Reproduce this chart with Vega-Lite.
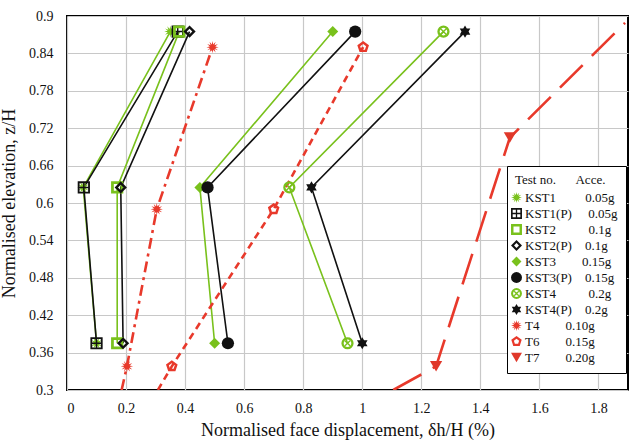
{
  "$schema": "https://vega.github.io/schema/vega-lite/v6.json",
  "width": 561,
  "height": 374,
  "autosize": {"type": "none"},
  "padding": {"left": 67, "top": 16, "right": 2, "bottom": 52},
  "background": "white",
  "config": {
    "font": "Liberation Serif",
    "view": {"stroke": "black", "strokeWidth": 2},
    "axis": {
      "domain": false,
      "ticks": false,
      "grid": true,
      "gridColor": "#c8c8c8",
      "gridWidth": 1.2,
      "labelFont": "Liberation Serif",
      "labelFontSize": 14,
      "labelColor": "#111",
      "titleFont": "Liberation Serif",
      "titleFontSize": 18,
      "titleFontWeight": "normal",
      "titleColor": "#111"
    },
    "legend": {
      "orient": "none",
      "padding": 8,
      "symbolOffset": -5,
      "fillColor": "white",
      "strokeColor": "#000000",
      "titleFont": "Liberation Serif",
      "titleFontSize": 13,
      "titleFontWeight": "normal",
      "titleColor": "#111",
      "titlePadding": 4,
      "labelFont": "Liberation Serif",
      "labelFontSize": 13,
      "labelColor": "#111",
      "labelOffset": 2,
      "rowPadding": 2,
      "symbolSize": 120,
      "symbolStrokeWidth": 0
    }
  },
  "data": {
    "values": [
      {"test": "KST1", "x": 0.35, "y": 0.875, "marked": true},
      {"test": "KST1", "x": 0.055, "y": 0.625, "marked": true},
      {"test": "KST1", "x": 0.1, "y": 0.375, "marked": true},
      {"test": "KST1(P)", "x": 0.375, "y": 0.875, "marked": true},
      {"test": "KST1(P)", "x": 0.057, "y": 0.625, "marked": true},
      {"test": "KST1(P)", "x": 0.1, "y": 0.375, "marked": true},
      {"test": "KST2", "x": 0.38, "y": 0.875, "marked": true},
      {"test": "KST2", "x": 0.17, "y": 0.625, "marked": true},
      {"test": "KST2", "x": 0.17, "y": 0.375, "marked": true},
      {"test": "KST2(P)", "x": 0.415, "y": 0.875, "marked": true},
      {"test": "KST2(P)", "x": 0.182, "y": 0.625, "marked": true},
      {"test": "KST2(P)", "x": 0.19, "y": 0.375, "marked": true},
      {"test": "KST3", "x": 0.9, "y": 0.875, "marked": true},
      {"test": "KST3", "x": 0.45, "y": 0.625, "marked": true},
      {"test": "KST3", "x": 0.5, "y": 0.375, "marked": true},
      {"test": "KST3(P)", "x": 0.976, "y": 0.875, "marked": true},
      {"test": "KST3(P)", "x": 0.476, "y": 0.625, "marked": true},
      {"test": "KST3(P)", "x": 0.545, "y": 0.375, "marked": true},
      {"test": "KST4", "x": 1.275, "y": 0.875, "marked": true},
      {"test": "KST4", "x": 0.753, "y": 0.625, "marked": true},
      {"test": "KST4", "x": 0.95, "y": 0.375, "marked": true},
      {"test": "KST4(P)", "x": 1.348, "y": 0.875, "marked": true},
      {"test": "KST4(P)", "x": 0.828, "y": 0.625, "marked": true},
      {"test": "KST4(P)", "x": 1.0, "y": 0.375, "marked": true},
      {"test": "T4", "x": 0.493, "y": 0.85, "marked": true},
      {"test": "T4", "x": 0.304, "y": 0.59, "marked": true},
      {"test": "T4", "x": 0.203, "y": 0.338, "marked": true},
      {"test": "T4", "x": 0.185, "y": 0.3, "marked": false},
      {"test": "T6", "x": 1.003, "y": 0.85, "marked": true},
      {"test": "T6", "x": 0.7, "y": 0.59, "marked": true},
      {"test": "T6", "x": 0.355, "y": 0.338, "marked": true},
      {"test": "T6", "x": 0.308, "y": 0.3, "marked": false},
      {"test": "T7", "x": 1.89, "y": 0.889, "marked": false},
      {"test": "T7", "x": 1.5, "y": 0.705, "marked": true},
      {"test": "T7", "x": 1.25, "y": 0.338, "marked": true},
      {"test": "T7", "x": 1.105, "y": 0.3, "marked": false}
    ]
  },
  "encoding": {
    "x": {
      "field": "x",
      "type": "quantitative",
      "scale": {"domain": [0, 1.9], "nice": false, "zero": false},
      "axis": {
        "values": [0, 0.2, 0.4, 0.6, 0.8, 1, 1.2, 1.4, 1.6, 1.8],
        "format": "~g",
        "labelPadding": 11,
        "titlePadding": 6,
        "title": "Normalised face displacement, δh/H (%)"
      }
    },
    "y": {
      "field": "y",
      "type": "quantitative",
      "scale": {"domain": [0.3, 0.9], "nice": false, "zero": false},
      "axis": {
        "values": [0.3, 0.36, 0.42, 0.48, 0.54, 0.6, 0.66, 0.72, 0.78, 0.84, 0.9],
        "format": "~g",
        "labelPadding": 14,
        "titlePadding": 10,
        "title": "Normalised elevation, z/H"
      }
    }
  },
  "layer": [
    {
      "transform": [{"filter": "substring(datum.test, 0, 3) === 'KST'"}],
      "mark": {"type": "line", "strokeWidth": 1.6, "clip": true},
      "encoding": {
        "detail": {"field": "test"},
        "order": {"field": "y", "type": "quantitative"},
        "stroke": {
          "field": "test",
          "type": "nominal",
          "legend": null,
          "scale": {
            "domain": ["T4", "T6", "T7", "KST1", "KST1(P)", "KST2", "KST2(P)", "KST3", "KST3(P)", "KST4", "KST4(P)"],
            "range": ["#e8392b", "#e8392b", "#e8392b", "#79c11c", "#111111", "#79c11c", "#111111", "#79c11c", "#111111", "#79c11c", "#111111"]
          }
        }
      }
    },
    {
      "transform": [{"filter": "substring(datum.test, 0, 1) === 'T'"}],
      "mark": {"type": "line", "strokeWidth": 2.6, "clip": true},
      "encoding": {
        "detail": {"field": "test"},
        "order": {"field": "y", "type": "quantitative"},
        "stroke": {
          "field": "test",
          "type": "nominal",
          "legend": null,
          "scale": {
            "domain": ["T4", "T6", "T7", "KST1", "KST1(P)", "KST2", "KST2(P)", "KST3", "KST3(P)", "KST4", "KST4(P)"],
            "range": ["#e8392b", "#e8392b", "#e8392b", "#79c11c", "#111111", "#79c11c", "#111111", "#79c11c", "#111111", "#79c11c", "#111111"]
          }
        },
        "strokeDash": {
          "field": "test",
          "type": "nominal",
          "legend": null,
          "scale": {
            "domain": ["T4", "T6", "T7"],
            "range": [[11, 5, 3, 5], [7, 5], [32, 13]]
          }
        }
      }
    },
    {
      "transform": [{"filter": "datum.marked"}],
      "mark": {"type": "point", "filled": true, "size": 150, "opacity": 1, "strokeWidth": 0},
      "encoding": {
        "fill": {
          "field": "test",
          "type": "nominal",
          "scale": {
            "domain": ["KST1", "KST1(P)", "KST2", "KST2(P)", "KST3", "KST3(P)", "KST4", "KST4(P)", "T4", "T6", "T7"],
            "range": ["#79c11c", "#111111", "#79c11c", "#111111", "#79c11c", "#111111", "#79c11c", "#111111", "#e8392b", "#e8392b", "#e0382a"]
          },
          "legend": {
            "title": "\u00a0\u00a0Test no.\u00a0\u00a0\u00a0\u00a0\u00a0\u00a0Acce.",
            "orient": "none",
            "legendX": 440,
            "legendY": 150,
            "labelExpr": "datum.label === 'KST1' ? 'KST1\u00a0\u00a0\u00a0\u00a0\u00a0\u00a0\u00a0\u00a0\u00a00.05g' : datum.label === 'KST1(P)' ? 'KST1(P)\u00a0\u00a0\u00a0\u00a0\u00a00.05g' : datum.label === 'KST2' ? 'KST2\u00a0\u00a0\u00a0\u00a0\u00a0\u00a0\u00a0\u00a0\u00a0\u00a00.1g' : datum.label === 'KST2(P)' ? 'KST2(P)\u00a0\u00a0\u00a0\u00a00.1g' : datum.label === 'KST3' ? 'KST3\u00a0\u00a0\u00a0\u00a0\u00a0\u00a0\u00a0\u00a00.15g' : datum.label === 'KST3(P)' ? 'KST3(P)\u00a0\u00a0\u00a0\u00a00.15g' : datum.label === 'KST4' ? 'KST4\u00a0\u00a0\u00a0\u00a0\u00a0\u00a0\u00a0\u00a0\u00a0\u00a00.2g' : datum.label === 'KST4(P)' ? 'KST4(P)\u00a0\u00a0\u00a0\u00a00.2g' : datum.label === 'T4' ? 'T4\u00a0\u00a0\u00a0\u00a0\u00a0\u00a0\u00a0\u00a00.10g' : datum.label === 'T6' ? 'T6\u00a0\u00a0\u00a0\u00a0\u00a0\u00a0\u00a0\u00a00.15g' : 'T7\u00a0\u00a0\u00a0\u00a0\u00a0\u00a0\u00a0\u00a00.20g'"
          }
        },
        "shape": {
          "field": "test",
          "type": "nominal",
          "scale": {
            "domain": ["KST1", "KST1(P)", "KST2", "KST2(P)", "KST3", "KST3(P)", "KST4", "KST4(P)", "T4", "T6", "T7"],
            "range": [
              "M0,-1L0.116,-0.435L0.5,-0.866L0.318,-0.318L0.866,-0.5L0.435,-0.116L1,0L0.435,0.116L0.866,0.5L0.318,0.318L0.5,0.866L0.116,0.435L0,1L-0.116,0.435L-0.5,0.866L-0.318,0.318L-0.866,0.5L-0.435,0.116L-1,0L-0.435,-0.116L-0.866,-0.5L-0.318,-0.318L-0.5,-0.866L-0.116,-0.435Z",
              "M-1,-1L1,-1L1,1L-1,1Z M-0.7,-0.7L-0.7,-0.12L-0.12,-0.12L-0.12,-0.7Z M0.12,-0.7L0.12,-0.12L0.7,-0.12L0.7,-0.7Z M-0.7,0.12L-0.7,0.7L-0.12,0.7L-0.12,0.12Z M0.12,0.12L0.12,0.7L0.7,0.7L0.7,0.12Z",
              "M-1,-1L1,-1L1,1L-1,1Z M-0.55,-0.55L-0.55,0.55L0.55,0.55L0.55,-0.55Z",
              "M0,-1L1,0L0,1L-1,0Z M0,-0.45L-0.45,0L0,0.45L0.45,0Z",
              "M0,-0.9L0.9,0L0,0.9L-0.9,0Z",
              "circle",
              "M1,0L0.924,0.383L0.707,0.707L0.383,0.924L0,1L-0.383,0.924L-0.707,0.707L-0.924,0.383L-1,0L-0.924,-0.383L-0.707,-0.707L-0.383,-0.924L0,-1L0.383,-0.924L0.707,-0.707L0.924,-0.383Z M0.62,0L0.573,-0.237L0.438,-0.438L0.237,-0.573L0,-0.62L-0.237,-0.573L-0.438,-0.438L-0.573,-0.237L-0.62,0L-0.573,0.237L-0.438,0.438L-0.237,0.573L0,0.62L0.237,0.573L0.438,0.438L0.573,0.237Z M-0.342,-0.498L0.498,0.342L0.342,0.498L-0.498,-0.342Z M-0.498,0.342L0.342,-0.498L0.498,-0.342L-0.342,0.498Z",
              "M0,-1L0.289,-0.5L0.866,-0.5L0.577,0L0.866,0.5L0.289,0.5L0,1L-0.289,0.5L-0.866,0.5L-0.577,0L-0.866,-0.5L-0.289,-0.5Z",
              "M0,-1L0.116,-0.435L0.5,-0.866L0.318,-0.318L0.866,-0.5L0.435,-0.116L1,0L0.435,0.116L0.866,0.5L0.318,0.318L0.5,0.866L0.116,0.435L0,1L-0.116,0.435L-0.5,0.866L-0.318,0.318L-0.866,0.5L-0.435,0.116L-1,0L-0.435,-0.116L-0.866,-0.5L-0.318,-0.318L-0.5,-0.866L-0.116,-0.435Z",
              "M0,-1L0.951,-0.309L0.588,0.809L-0.588,0.809L-0.951,-0.309Z M0,-0.5L-0.476,-0.155L-0.294,0.405L0.294,0.405L0.476,-0.155Z",
              "triangle-down"
            ]
          },
          "legend": {
            "title": "\u00a0\u00a0Test no.\u00a0\u00a0\u00a0\u00a0\u00a0\u00a0Acce.",
            "orient": "none",
            "legendX": 440,
            "legendY": 150
          }
        }
      }
    }
  ]
}
